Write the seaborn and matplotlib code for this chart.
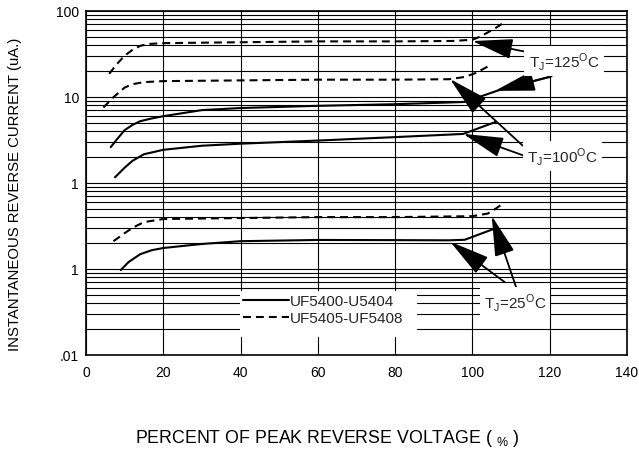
import numpy as np
import pandas as pd
import matplotlib
matplotlib.use("Agg")
import matplotlib.pyplot as plt
from matplotlib.lines import Line2D
from matplotlib.patches import Rectangle
from matplotlib.ticker import LogLocator, NullFormatter
import seaborn as sns

# ---- data ----
# UF5405-UF5408 (dashed)
d125_x = [6, 8, 10, 12, 14, 16, 20, 40, 60, 80, 95, 100, 102, 104, 106, 108]
d125_y = [18.5, 24, 30, 35, 39, 41, 42, 43, 44, 44, 44.5, 46, 50, 56, 63, 72]
d100_x = [4.5, 7, 10, 12, 15, 20, 40, 60, 80, 94, 98, 101, 104]
d100_y = [7.5, 9.8, 12.8, 14, 14.8, 15.2, 15.5, 15.8, 15.8, 16, 17, 19, 22.5]
d25_x = [7.1, 10, 12, 15, 20, 40, 60, 80, 100, 104, 106, 108]
d25_y = [0.21, 0.26, 0.3, 0.35, 0.38, 0.39, 0.4, 0.4, 0.41, 0.44, 0.5, 0.58]
# UF5400-U5404 (solid)
s125_x = [6.4, 8, 10, 12, 14, 17, 20, 30, 40, 60, 80, 98, 107, 120]
s125_y = [2.6, 3.2, 4.1, 4.7, 5.2, 5.6, 5.95, 7.0, 7.4, 7.85, 8.2, 8.7, 12, 17]
s100_x = [7.5, 10, 12, 15, 20, 30, 40, 60, 80, 97.6, 106]
s100_y = [1.16, 1.5, 1.8, 2.15, 2.42, 2.7, 2.85, 3.1, 3.4, 3.7, 5.1]
s25_x = [9, 11, 14, 17, 20, 30, 40, 60, 80, 94, 98, 105.4]
s25_y = [0.097, 0.12, 0.148, 0.165, 0.175, 0.195, 0.21, 0.217, 0.216, 0.215, 0.218, 0.29]

devices = ["UF5400-U5404", "UF5405-UF5408"]
y_ticks = [100, 10, 1, 0.1, 0.01]
y_tick_labels = ["100", "10", "1", "1", ".01"]
x_ticks = [0, 20, 40, 60, 80, 100, 120, 140]

# annotation: label text, label pos, arrows (tail, tip)
labels = [
    (r"T$_\mathregular{J}$=125$^\mathregular{O}$C", (123.7, 26.0),
     [((114.1, 33.1), (100.0, 44.4)), ((120.5, 17.3), (105.8, 11.7))]),
    (r"T$_\mathregular{J}$=100$^\mathregular{O}$C", (123.2, 2.06),
     [((113.0, 2.71), (94.2, 16.1)), ((113.2, 2.08), (97.6, 3.71))]),
    (r"T$_\mathregular{J}$=25$^\mathregular{O}$C", (111.0, 0.0414),
     [((108.4, 0.070), (94.2, 0.208)), ((111.9, 0.0512), (105.0, 0.413))]),
]

rows = []
for name, dev, xs, ys in [
    ("d125", devices[1], d125_x, d125_y),
    ("d100", devices[1], d100_x, d100_y),
    ("d25", devices[1], d25_x, d25_y),
    ("s125", devices[0], s125_x, s125_y),
    ("s100", devices[0], s100_x, s100_y),
    ("s25", devices[0], s25_x, s25_y),
]:
    for x, y in zip(xs, ys):
        rows.append({"curve": name, "device": dev, "pct": x, "current": y})
df = pd.DataFrame(rows)

sns.set_theme(style="white")
plt.rcParams["font.family"] = ["Liberation Sans", "DejaVu Sans"]
plt.rcParams["mathtext.fontset"] = "custom"
plt.rcParams["mathtext.rm"] = "Liberation Sans"

W, H = 639, 452
fig = plt.figure(figsize=(W / 100, H / 100), dpi=100)
ax_l, ax_r, ax_t, ax_b = 86, 627, 11.7, 356
ax = fig.add_axes([ax_l / W, 1 - ax_b / H, (ax_r - ax_l) / W, (ax_b - ax_t) / H])
aw, ah = ax_r - ax_l, ax_b - ax_t

def axfrac(px, py):
    return ((px - ax_l) / aw, (ax_b - py) / ah)

dash_pat = (3.8, 2.4)
sns.lineplot(data=df, x="pct", y="current", units="curve", style="device",
             estimator=None, sort=False, color="black", linewidth=1.5,
             dashes={devices[0]: "", devices[1]: dash_pat}, legend=False,
             ax=ax, zorder=4)

ax.set_yscale("log")
ax.set_xlim(0, 140)
ax.set_ylim(0.01, 100)
ax.set_xticks(x_ticks)
ax.set_xticklabels([str(v) for v in x_ticks])
ax.set_yticks(y_ticks)
ax.set_yticklabels(y_tick_labels)
ax.yaxis.set_minor_locator(LogLocator(base=10, subs=np.arange(2, 10)))
ax.yaxis.set_minor_formatter(NullFormatter())
ax.grid(True, which="both", axis="y", color="black", linewidth=0.8)
ax.grid(True, which="major", axis="x", color="black", linewidth=0.8)
ax.tick_params(axis="both", which="both", length=0, labelsize=10, colors="black", pad=5)
ax.tick_params(axis="x", pad=7)
for sp in ax.spines.values():
    sp.set_color("black")
    sp.set_linewidth(1.2)
    sp.set_visible(True)

ax.set_xlabel("PERCENT OF PEAK REVERSE VOLTAGE ( $_\\mathregular{\\%}$ )", fontsize=12.8,
              color="black")
ax.xaxis.set_label_coords(*axfrac(327, 428))
ax.set_ylabel("INSTANTANEOUS REVERSE CURRENT (uA.)", fontsize=10.7, color="black")
ax.yaxis.set_label_coords(*axfrac(22, 194))

for text, pos, arrows in labels:
    for tail, tip in arrows:
        ax.annotate("", xy=tip, xytext=tail,
                    arrowprops=dict(arrowstyle="-|>,head_length=1.4,head_width=0.35",
                                    mutation_scale=18, color="black", lw=1.3,
                                    shrinkA=0, shrinkB=0), zorder=6)
    ax.text(pos[0], pos[1], text, fontsize=11, ha="center", va="center", zorder=7,
            bbox=dict(facecolor="white", edgecolor="none", pad=3))

# white area behind the legend
x0, y0 = axfrac(240, 338)
x1, y1 = axfrac(417, 292)
ax.add_patch(Rectangle((x0, y0), x1 - x0, y1 - y0, transform=ax.transAxes,
                       facecolor="white", edgecolor="none", zorder=3))

handles = [Line2D([], [], color="black", lw=1.5),
           Line2D([], [], color="black", lw=1.5, dashes=dash_pat)]
leg = ax.legend(handles, devices, loc="upper left", bbox_to_anchor=axfrac(243, 295),
                frameon=False, fontsize=11, handlelength=3.0, handletextpad=0.05,
                borderpad=0, labelspacing=0.2, borderaxespad=0)
leg.set_zorder(5)

fig.savefig("out.png", dpi=100, facecolor="white")
